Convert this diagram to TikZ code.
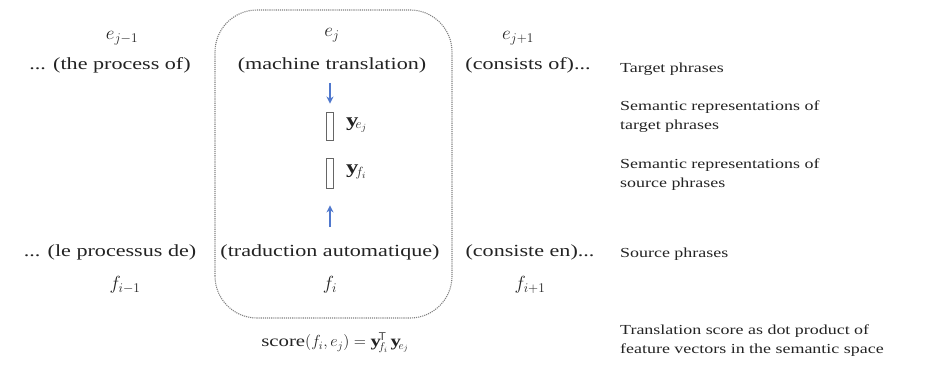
\RequirePackage{fix-cm}
\documentclass[tikz,border=0pt]{standalone}
\usepackage{fontspec}
\setmainfont{Liberation Serif}[FakeStretch=1.3]
\usetikzlibrary{arrows.meta}
\definecolor{arrblue}{RGB}{80,120,205}
\definecolor{txt}{RGB}{35,35,35}
\tikzset{
  word/.style={font=\fontsize{17}{20}\selectfont, text=txt, inner sep=1pt},
  sym/.style={font=\fontsize{19}{22}\selectfont, text=txt, inner sep=1pt},
  formula/.style={font=\fontsize{16}{20}\selectfont, text=txt, inner sep=1pt},
  desc/.style={font=\fontsize{13.8}{19}\selectfont, text=txt, anchor=west, align=left, inner sep=0pt},
  vec/.style={draw=gray!80!black, line width=0.9pt, minimum width=7pt, minimum height=28pt, inner sep=0pt},
  arr/.style={-{Stealth[length=7pt,width=7pt,open]}, draw=arrblue, line width=1.2pt},
  frame/.style={draw=gray, densely dotted, line width=1.1pt, rounded corners=42pt}
}
\begin{document}
\begin{tikzpicture}[x=1pt,y=1pt]
\useasboundingbox (0,0) rectangle (941,366);
\draw[frame] (215,48) rectangle (452,356);
% target side
\node[sym] (ejm1) at (122,328) {$e_{j-1}$};
\node[sym] (ej) at (332,331) {$e_j$};
\node[sym] (ejp1) at (518,328) {$e_{j+1}$};
\node[word] (t1) at (110,301) {... (the process of)};
\node[word] (t2) at (332,301) {(machine translation)};
\node[word] (t3) at (528,301) {(consists of)...};
% vectors
\node[vec] (v1) at (330,240) {};
\node[vec, minimum height=30pt] (v2) at (330,193) {};
\node[sym, anchor=west] (ye) at (345,241) {$\mathbf{y}_{e_j}$};
\node[sym, anchor=west] (yf) at (345,194) {$\mathbf{y}_{f_i}$};
% source side
\node[word] (s1) at (110,114) {... (le processus de)};
\node[word] (s2) at (330,114) {(traduction automatique)};
\node[word] (s3) at (530,114) {(consiste en)...};
\node[sym] (fim1) at (125,81) {$f_{i-1}$};
\node[sym] (fi) at (330,81) {$f_i$};
\node[sym] (fip1) at (530,81) {$f_{i+1}$};
\node[formula] (score) at (335,23) {score$(f_i,e_j)=\mathbf{y}_{f_i}^{\mathsf{T}}\,\mathbf{y}_{e_j}$};
% arrows
\draw[arr] ([yshift=-9pt]t2.south -| v1) -- ([yshift=8pt]v1.north);
\draw[arr] ([yshift=16pt]s2.north -| v2) -- ([yshift=-17pt]v2.south);
% descriptions
\node[desc] (d1) at (620,297) {Target phrases};
\node[desc] (d2) at (620,249) {Semantic representations of\\target phrases};
\node[desc] (d3) at (620,191) {Semantic representations of\\source phrases};
\node[desc] (d4) at (620,112) {Source phrases};
\node[desc] (d5) at (620,25) {Translation score as dot product of\\feature vectors in the semantic space};
\end{tikzpicture}
\end{document}
